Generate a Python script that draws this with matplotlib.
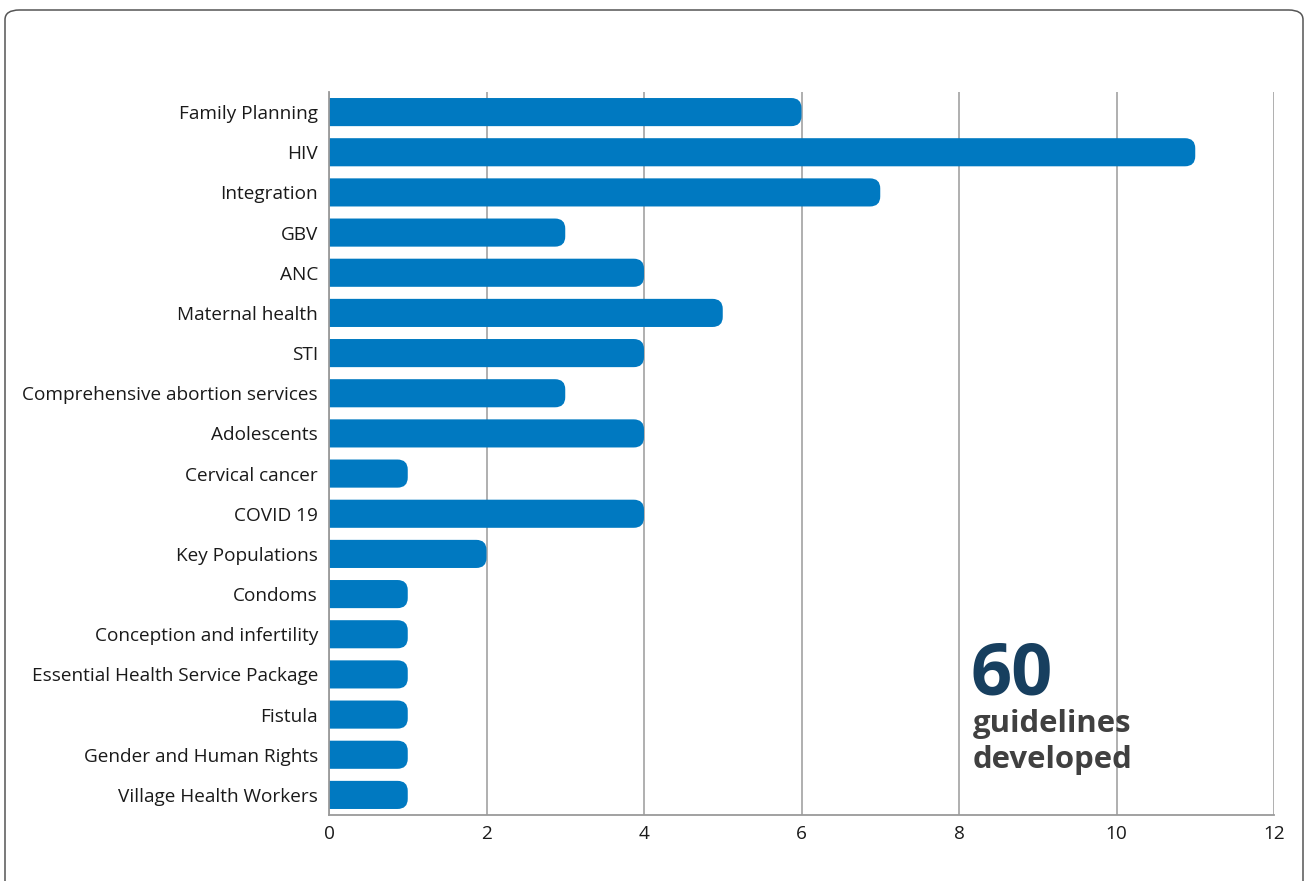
import numpy as np
import matplotlib.pyplot as plt
from matplotlib.path import Path
from matplotlib.patches import PathPatch, FancyBboxPatch

plt.rcParams['font.family'] = ['Open Sans', 'DejaVu Sans']

# Guidelines developed per topic
topics = ["Family Planning", "HIV", "Integration", "GBV", "ANC", "Maternal health",
          "STI", "Comprehensive abortion services", "Adolescents", "Cervical cancer",
          "COVID 19", "Key Populations", "Condoms", "Conception and infertility",
          "Essential Health Service Package", "Fistula", "Gender and Human Rights",
          "Village Health Workers"]
counts = [6, 11, 7, 3, 4, 5, 4, 3, 4, 1, 4, 2, 1, 1, 1, 1, 1, 1]
total = sum(counts)

bar_color = "#0079c1"
grid_color = "#9a9a9a"

fig = plt.figure(figsize=(13.07, 8.81), dpi=100)

# outer rounded frame (bottom edge runs off the figure)
frame = FancyBboxPatch((5/1307, -0.05), 1298/1307, 0.05 + (881-10)/881,
                       boxstyle="round,pad=0,rounding_size=0.011",
                       transform=fig.transFigure, fill=False,
                       edgecolor="#555555", linewidth=1.1)
fig.patches.append(frame)

ax = fig.add_axes([329/1307, (881-815)/881, (1274-329)/1307, (815-92)/881])

ypos = np.arange(len(topics))[::-1]
h = 0.7
rx, ry = 0.13, 0.25   # corner radius in data units on each axis

for y, v in zip(ypos, counts):
    y0, y1 = y - h/2, y + h/2
    verts = [(0, y0), (v - rx, y0), (v, y0), (v, y0 + ry), (v, y1 - ry),
             (v, y1), (v - rx, y1), (0, y1), (0, y0)]
    codes = [Path.MOVETO, Path.LINETO, Path.CURVE3, Path.CURVE3, Path.LINETO,
             Path.CURVE3, Path.CURVE3, Path.LINETO, Path.CLOSEPOLY]
    ax.add_patch(PathPatch(Path(verts, codes), facecolor=bar_color,
                           edgecolor="none", zorder=3))

ax.set_xlim(0, 12)
ax.set_ylim(-0.5, len(topics) - 0.5)
ax.set_xticks(range(0, 13, 2))
ax.set_yticks(ypos)
ax.set_yticklabels(topics)
ax.tick_params(axis='both', length=0, labelsize=13.7, colors="#1a1a1a")
ax.tick_params(axis='y', pad=8)
ax.tick_params(axis='x', pad=7)

ax.grid(axis='x', color=grid_color, linewidth=1.1, zorder=1)
for s in ["top", "right"]:
    ax.spines[s].set_visible(False)
for s in ["left", "bottom"]:
    ax.spines[s].set_color(grid_color)
    ax.spines[s].set_linewidth(1.3)
    ax.spines[s].set_zorder(4)

# summary callout
ax.text(8.15, 2.51, str(total), fontsize=52, fontweight='bold', color="#173f5f",
        ha='left', va='baseline', zorder=5)
ax.text(8.17, 1.57, "guidelines", fontsize=22.4, fontweight='bold', color="#404040",
        ha='left', va='baseline', zorder=5)
ax.text(8.17, 0.67, "developed", fontsize=22.4, fontweight='bold', color="#404040",
        ha='left', va='baseline', zorder=5)

fig.savefig("out.png", dpi=100)
